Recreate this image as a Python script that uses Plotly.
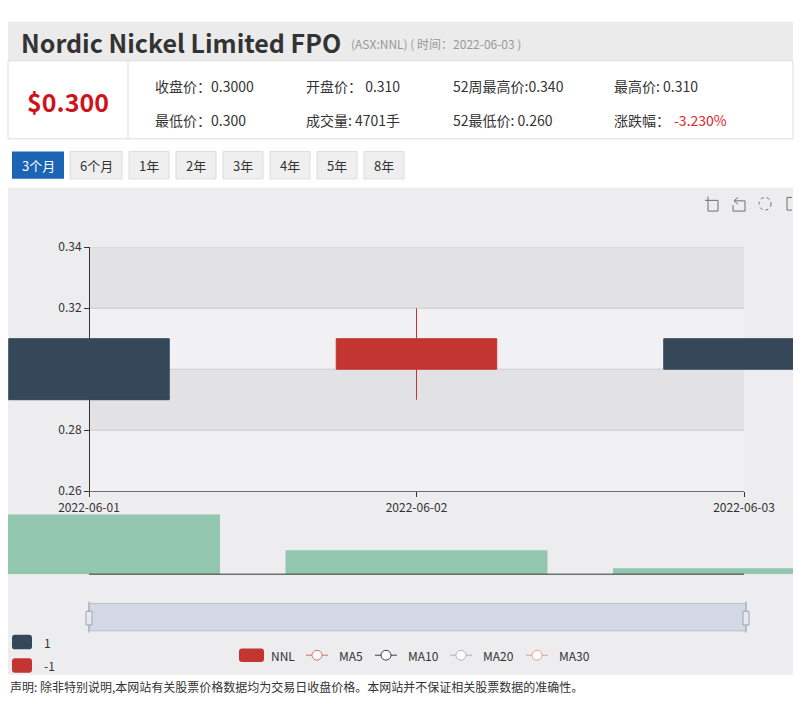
import plotly.graph_objects as go

W, H = 808, 712

# ---------------- data ----------------
dates = ["2022-06-01", "2022-06-02", "2022-06-03"]
open_p = [0.31, 0.30, 0.31]
high_p = [0.31, 0.32, 0.31]
low_p = [0.29, 0.29, 0.30]
close_p = [0.29, 0.31, 0.30]
volume = [47000, 18800, 4701]
price_ticks = [0.26, 0.28, 0.30, 0.32, 0.34]

title = "Nordic Nickel Limited FPO"
subtitle = "(ASX:NNL) ( 时间：2022-06-03 )"
last_price = "$0.300"
info_row1 = ["收盘价：0.3000", "开盘价： 0.310", "52周最高价:0.340", "最高价: 0.310"]
info_row2 = ["最低价：0.300", "成交量: 4701手", "52最低价: 0.260", "涨跌幅："]
change_pct = "-3.230%"
periods = ["3个月", "6个月", "1年", "2年", "3年", "4年", "5年", "8年"]
series_name = "NNL"
ma_names = ["MA5", "MA10", "MA20", "MA30"]
ma_colors = ["rgba(194,53,49,0.65)", "#2f4554", "rgba(120,150,160,0.6)", "rgba(212,130,101,0.7)"]
piece_labels = ["1", "-1"]
disclaimer = "声明: 除非特别说明,本网站有关股票价格数据均为交易日收盘价格。本网站并不保证相关股票数据的准确性。"

# ---------------- styles ----------------
RED = "#c23531"
DARK = "#34485a"
VOL = "#93c6ae"
FONT = "Noto Sans CJK SC"
TXT = "#333333"


def px(x):
    return x / W


def py(y):
    return 1 - y / H


shapes = []
annotations = []


def rect(x0, y0, x1, y1, fill, line=None, lw=1, layer="below"):
    shapes.append(dict(type="rect", xref="paper", yref="paper",
                       x0=px(x0), x1=px(x1), y0=py(y1), y1=py(y0),
                       fillcolor=fill, layer=layer,
                       line=dict(color=line or fill, width=lw if line else 0)))


def pline(x0, y0, x1, y1, color, lw=1, layer="above"):
    shapes.append(dict(type="line", xref="paper", yref="paper",
                       x0=px(x0), x1=px(x1), y0=py(y0), y1=py(y1),
                       layer=layer, line=dict(color=color, width=lw)))


def ppath(points_cmds, color, lw=1, fill=None, layer="above"):
    s = ""
    for c, x, y in points_cmds:
        s += f"{c}{px(x):.5f},{py(y):.5f} "
    shapes.append(dict(type="path", xref="paper", yref="paper", path=s.strip(),
                       layer=layer, fillcolor=fill or "rgba(0,0,0,0)",
                       line=dict(color=color, width=lw)))


def rrect(x0, y0, x1, y1, r, fill, layer="above"):
    def P(x, y):
        return f"{px(x):.5f},{py(y):.5f}"
    path = (f"M{P(x0 + r, y0)} L{P(x1 - r, y0)} Q{P(x1, y0)} {P(x1, y0 + r)} "
            f"L{P(x1, y1 - r)} Q{P(x1, y1)} {P(x1 - r, y1)} L{P(x0 + r, y1)} "
            f"Q{P(x0, y1)} {P(x0, y1 - r)} L{P(x0, y0 + r)} Q{P(x0, y0)} {P(x0 + r, y0)} Z")
    shapes.append(dict(type="path", xref="paper", yref="paper", path=path,
                       layer=layer, fillcolor=fill, line=dict(width=0)))


def text(x, y, s, size=14, color=TXT, anchor="left", bold=False, family=FONT):
    annotations.append(dict(xref="paper", yref="paper", x=px(x), y=py(y),
                            text=s, showarrow=False, xanchor=anchor, yanchor="middle",
                            font=dict(family=family, size=size, color=color,
                                      weight="bold" if bold else "normal")))


# ---------------- header ----------------
rect(8, 12, 793, 52, "#ebebeb")
text(19, 33, title, size=25, color="#333", bold=True)
text(349, 34, subtitle, size=12, color="#999")

rect(8, 52, 793, 132, "#ffffff", line="#dddddd")
pline(128, 52, 128, 132, "#dddddd", layer="below")
text(68, 93, last_price, size=25, color="#d0121b", anchor="center", bold=True)
col_x = [153, 304, 451, 612]
for i, s in enumerate(info_row1):
    text(col_x[i], 78, s, size=14)
for i, s in enumerate(info_row2):
    text(col_x[i], 113, s, size=14)
text(672, 113, change_pct, size=14, color="#e0242b")

# period buttons
btn_x = [(12, 64), (70, 122), (129, 169), (176, 216), (223, 263), (270, 310), (317, 357), (364, 404)]
for i, (lbl, (a, b)) in enumerate(zip(periods, btn_x)):
    if i == 0:
        rect(a, 145, b, 173, "#1c64b4")
        text((a + b) / 2, 159, lbl, size=13, color="#ffffff", anchor="center")
    else:
        rect(a, 145, b, 173, "#efefef", line="#dcdcdc")
        text((a + b) / 2, 159, lbl, size=13, color="#333", anchor="center")

# chart container
rect(8, 182, 793, 681, "#edecee")

# toolbox icons
ic = "#707070"
ppath([("M", 705, 195), ("L", 718, 195), ("L", 718, 206), ("L", 708, 206), ("L", 708, 191)], ic)
ppath([("M", 738, 192), ("L", 734, 195.5), ("L", 738, 199)], ic)
ppath([("M", 735, 195.5), ("L", 745, 195.5), ("L", 745, 206), ("L", 733, 206), ("L", 733, 200)], ic)
shapes.append(dict(type="circle", xref="paper", yref="paper", x0=px(759), x1=px(771),
                   y0=py(205), y1=py(192), line=dict(color=ic, width=1, dash="dot")))
ppath([("M", 792, 192), ("L", 787, 192), ("L", 787, 205), ("L", 792, 205)], ic)

# ---------------- chart bands / grid (data referenced) ----------------
band_colors = ["#f1f0f2", "#e2e1e3", "#f1f0f2", "#e2e1e3"]
for i in range(len(price_ticks) - 1):
    shapes.append(dict(type="rect", xref="x", yref="y", x0=0, x1=len(dates) - 1,
                       y0=price_ticks[i], y1=price_ticks[i + 1], layer="below",
                       fillcolor=band_colors[i], line=dict(width=0)))
for t in price_ticks[1:]:
    shapes.append(dict(type="line", xref="x", yref="y", x0=0, x1=len(dates) - 1,
                       y0=t, y1=t, layer="below", line=dict(color="#cdcdcf", width=1)))
# x axis line (only across category span)
shapes.append(dict(type="line", xref="x", yref="y domain", x0=0, x1=len(dates) - 1,
                   y0=0, y1=0, layer="below", line=dict(color="#333", width=1)))
# volume baseline
shapes.append(dict(type="line", xref="x2", yref="y2 domain", x0=0, x1=len(dates) - 1,
                   y0=0, y1=0, layer="above", line=dict(color="#333", width=1)))

# data zoom slider
rect(89, 608, 746, 636, "#d3d8e4", line="#b8bfcd", layer="above")
for hx in (89, 746):
    pline(hx, 606, hx, 638, "#9aa3b5", lw=1)
    rect(hx - 3, 616, hx + 3, 630, "#e6e9ef", line="#9aa3b5", layer="above")

# visual map pieces
for i, (lbl, col) in enumerate(zip(piece_labels, [DARK, RED])):
    y0 = 640 + i * 24
    rrect(12, y0, 32, y0 + 15, 3, col)
    text(42, y0 + 8, lbl, size=12)

# legend
rrect(239, 654, 264, 668, 3, RED)
text(269, 661, series_name, size=12)
ma_x = [306, 375, 450, 526]
for name, col, x0 in zip(ma_names, ma_colors, ma_x):
    pline(x0, 661, x0 + 22, 661, col, lw=1)
    shapes.append(dict(type="circle", xref="paper", yref="paper",
                       x0=px(x0 + 6), x1=px(x0 + 16), y0=py(666), y1=py(656),
                       fillcolor="#ffffff", line=dict(color=col, width=1), layer="above"))
    text(x0 + 31, 661, name, size=12)

text(8, 693, disclaimer, size=12, color="#333")

# ---------------- traces ----------------
fig = go.Figure()
fig.add_trace(go.Candlestick(
    x=dates, open=open_p, high=high_p, low=low_p, close=close_p,
    increasing=dict(line=dict(color=RED, width=1), fillcolor=RED),
    decreasing=dict(line=dict(color=DARK, width=1), fillcolor=DARK),
    whiskerwidth=0, showlegend=False, hoverinfo="skip",
    xaxis="x", yaxis="y"))
fig.add_trace(go.Bar(x=dates, y=volume, marker=dict(color=VOL, line=dict(width=0)),
                     width=0.8, showlegend=False, hoverinfo="skip",
                     xaxis="x2", yaxis="y2"))

step = (744 - 89) / (len(dates) - 1)
xr = [-(89 - 8) / step, (len(dates) - 1) + (793 - 744) / step]

fig.update_layout(
    width=W, height=H, margin=dict(l=0, r=0, t=0, b=0),
    paper_bgcolor="#ffffff", plot_bgcolor="rgba(0,0,0,0)",
    showlegend=False, boxgap=0.3,
    font=dict(family=FONT, color=TXT),
    xaxis=dict(domain=[px(8), px(793)], range=xr, type="category",
               showline=False, showgrid=False, zeroline=False,
               ticks="outside", ticklen=5, tickcolor="#333",
               tickfont=dict(size=12, color="#333", family=FONT),
               rangeslider=dict(visible=False), anchor="y", fixedrange=True),
    yaxis=dict(domain=[py(493), py(243)], range=[price_ticks[0], price_ticks[-1]],
               anchor="free", position=px(89), showline=True, linecolor="#333",
               linewidth=1, ticks="outside", ticklen=5, tickcolor="#333",
               tickvals=price_ticks, tickformat=".2f", showgrid=False, zeroline=False,
               tickfont=dict(size=12, color="#333", family=FONT),
               layer="below traces", fixedrange=True),
    xaxis2=dict(domain=[px(8), px(793)], range=xr, type="category", visible=False,
                anchor="y2", fixedrange=True),
    yaxis2=dict(domain=[py(578), py(513)], range=[0, 50000], visible=False,
                anchor="x2", fixedrange=True),
    shapes=shapes, annotations=annotations,
)

fig.write_html("out.html", config={"displayModeBar": False})
